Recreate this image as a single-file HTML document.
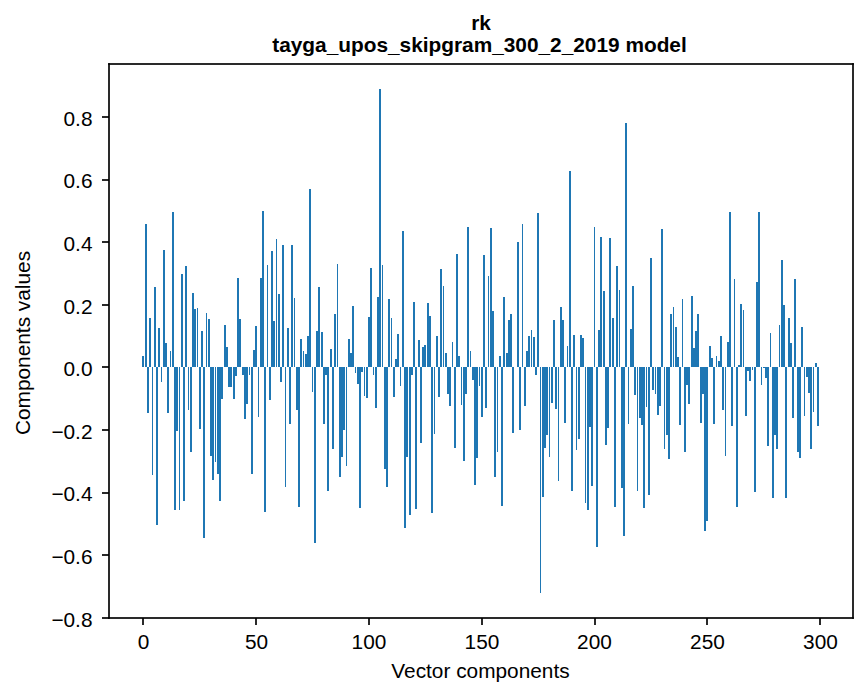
<!DOCTYPE html>
<html lang="en"><head><meta charset="utf-8"><title>rk - tayga_upos_skipgram_300_2_2019 model</title>
<style>
html,body{margin:0;padding:0;background:#fff;}
body{width:867px;height:696px;position:relative;overflow:hidden;font-family:"Liberation Sans",sans-serif;}
svg{position:absolute;left:0;top:0;display:block;}
</style></head><body>
<svg width="867" height="696" viewBox="0 0 867 696" role="img" aria-labelledby="ct">
<title id="ct">Bar chart: rk, tayga_upos_skipgram_300_2_2019 model. X axis: Vector components (0-300). Y axis: Components values (-0.8 to 0.8).</title>
<rect width="867" height="696" fill="#fff"/>
<path id="bars" fill="#1f77b4" shape-rendering="crispEdges" d="M142 356h2v11h-2zM145 224h2v143h-2zM147 367h2v46h-2zM149 318h2v49h-2zM152 367h1v108h-1zM154 287h2v80h-2zM156 367h2v158h-2zM158 328h2v39h-2zM161 367h1v15h-1zM163 250h2v117h-2zM165 343h2v24h-2zM167 367h2v46h-2zM170 351h1v16h-1zM172 212h2v155h-2zM174 367h2v143h-2zM176 367h2v64h-2zM179 367h1v143h-1zM181 274h2v93h-2zM183 367h2v134h-2zM185 266h2v101h-2zM188 367h1v43h-1zM190 367h2v85h-2zM192 293h2v74h-2zM194 309h2v58h-2zM197 308h1v59h-1zM199 367h2v62h-2zM201 331h2v36h-2zM203 367h2v171h-2zM206 313h1v54h-1zM208 319h2v48h-2zM210 367h2v89h-2zM212 367h2v113h-2zM215 367h1v95h-1zM217 367h2v107h-2zM219 367h2v134h-2zM221 367h2v32h-2zM224 325h2v42h-2zM226 347h2v20h-2zM228 367h2v20h-2zM230 367h2v20h-2zM233 367h2v32h-2zM235 367h2v9h-2zM237 278h2v89h-2zM239 319h2v48h-2zM242 367h2v8h-2zM244 367h2v52h-2zM246 367h2v37h-2zM249 367h1v8h-1zM251 367h2v107h-2zM253 350h2v17h-2zM255 326h2v41h-2zM258 367h1v50h-1zM260 278h2v89h-2zM262 211h2v156h-2zM264 367h2v145h-2zM267 265h1v102h-1zM269 367h2v33h-2zM271 251h2v116h-2zM273 321h2v46h-2zM276 239h1v128h-1zM278 294h2v73h-2zM280 367h2v15h-2zM282 245h2v122h-2zM285 367h1v120h-1zM287 328h2v39h-2zM289 367h2v57h-2zM291 245h2v122h-2zM294 298h1v69h-1zM296 367h2v43h-2zM298 367h2v140h-2zM300 339h2v28h-2zM303 351h1v16h-1zM305 354h2v13h-2zM307 336h2v31h-2zM309 189h2v178h-2zM312 367h1v25h-1zM314 367h2v176h-2zM316 331h2v36h-2zM318 287h2v80h-2zM321 332h2v35h-2zM323 367h2v57h-2zM325 367h2v8h-2zM327 367h2v124h-2zM330 349h2v18h-2zM332 367h2v82h-2zM334 314h2v53h-2zM337 264h1v103h-1zM339 367h2v110h-2zM341 367h2v90h-2zM343 367h2v63h-2zM346 367h1v99h-1zM348 339h2v28h-2zM350 353h2v14h-2zM352 306h2v61h-2zM355 367h1v6h-1zM357 367h2v17h-2zM359 367h2v141h-2zM361 367h2v5h-2zM364 367h1v29h-1zM366 367h2v31h-2zM368 317h2v50h-2zM370 268h2v99h-2zM373 367h1v8h-1zM375 367h2v41h-2zM377 297h2v70h-2zM379 89h2v278h-2zM382 265h1v102h-1zM384 367h2v102h-2zM386 367h2v120h-2zM388 299h2v68h-2zM391 318h1v49h-1zM393 367h2v30h-2zM395 359h2v8h-2zM397 334h2v33h-2zM400 367h1v19h-1zM402 231h2v136h-2zM404 367h2v161h-2zM406 367h2v90h-2zM409 367h2v148h-2zM411 367h2v8h-2zM413 302h2v65h-2zM415 367h2v142h-2zM418 340h2v27h-2zM420 367h2v76h-2zM422 347h2v20h-2zM424 345h2v22h-2zM427 303h2v64h-2zM429 316h2v51h-2zM431 367h2v146h-2zM434 367h1v67h-1zM436 336h2v31h-2zM438 367h2v30h-2zM440 269h2v98h-2zM443 286h1v81h-1zM445 353h2v14h-2zM447 367h2v27h-2zM449 367h2v39h-2zM452 342h1v25h-1zM454 367h2v81h-2zM456 254h2v113h-2zM458 356h2v11h-2zM461 367h1v38h-1zM463 367h2v94h-2zM465 367h2v27h-2zM467 227h2v140h-2zM470 351h1v16h-1zM472 367h2v13h-2zM474 367h2v118h-2zM476 367h2v91h-2zM479 367h1v19h-1zM481 367h2v50h-2zM483 255h2v112h-2zM485 367h2v41h-2zM488 276h1v91h-1zM490 228h2v139h-2zM492 311h2v56h-2zM494 367h2v110h-2zM497 367h1v85h-1zM499 356h2v11h-2zM501 367h2v139h-2zM503 297h2v70h-2zM506 353h2v14h-2zM508 320h2v47h-2zM510 314h2v53h-2zM512 367h2v66h-2zM517 242h2v125h-2zM519 367h2v63h-2zM522 224h1v143h-1zM524 367h2v39h-2zM526 351h2v16h-2zM528 336h2v31h-2zM531 330h1v37h-1zM533 337h2v30h-2zM535 367h2v8h-2zM537 213h2v154h-2zM540 367h1v226h-1zM542 367h2v130h-2zM544 367h2v81h-2zM546 367h2v68h-2zM549 367h1v90h-1zM551 367h2v36h-2zM553 320h2v47h-2zM555 367h2v42h-2zM558 367h1v114h-1zM560 307h2v60h-2zM562 320h2v47h-2zM564 367h2v56h-2zM567 346h1v21h-1zM569 171h2v196h-2zM571 367h2v124h-2zM573 335h2v32h-2zM576 367h1v83h-1zM578 367h2v72h-2zM580 335h2v32h-2zM582 338h2v29h-2zM585 367h1v136h-1zM587 367h2v143h-2zM589 367h2v60h-2zM591 367h2v119h-2zM594 227h1v140h-1zM596 367h2v180h-2zM598 330h2v37h-2zM600 237h2v130h-2zM603 291h2v76h-2zM605 367h2v78h-2zM607 367h2v61h-2zM609 238h2v129h-2zM612 318h2v49h-2zM614 367h2v140h-2zM616 266h2v101h-2zM619 290h1v77h-1zM621 367h2v121h-2zM623 367h2v169h-2zM625 123h2v244h-2zM628 367h1v57h-1zM630 329h2v38h-2zM632 286h2v81h-2zM634 367h2v28h-2zM637 367h1v124h-1zM639 367h2v51h-2zM641 367h2v58h-2zM643 367h2v141h-2zM646 367h1v40h-1zM648 367h2v128h-2zM650 258h2v109h-2zM652 367h2v23h-2zM655 367h1v27h-1zM657 367h2v48h-2zM659 367h2v39h-2zM661 229h2v138h-2zM664 367h1v82h-1zM666 367h2v68h-2zM668 367h2v92h-2zM670 314h2v53h-2zM673 307h1v60h-1zM675 327h2v40h-2zM677 357h2v10h-2zM679 367h2v58h-2zM682 299h1v68h-1zM684 367h2v85h-2zM686 367h2v18h-2zM688 367h2v37h-2zM691 296h2v71h-2zM693 348h2v19h-2zM695 331h2v36h-2zM697 314h2v53h-2zM700 367h2v56h-2zM702 367h2v27h-2zM704 367h2v164h-2zM706 367h2v154h-2zM709 346h2v21h-2zM711 358h2v9h-2zM713 367h2v57h-2zM716 356h1v11h-1zM718 361h2v6h-2zM720 336h2v31h-2zM722 367h2v43h-2zM725 367h1v89h-1zM727 342h2v25h-2zM729 212h2v155h-2zM731 367h2v59h-2zM734 279h1v88h-1zM736 367h2v140h-2zM738 365h2v2h-2zM740 304h2v63h-2zM743 310h1v57h-1zM745 367h2v49h-2zM747 367h2v4h-2zM749 367h2v14h-2zM752 367h1v3h-1zM754 367h2v125h-2zM756 282h2v85h-2zM758 212h2v155h-2zM761 367h1v18h-1zM763 367h2v1h-2zM765 367h2v11h-2zM767 367h2v79h-2zM770 333h1v34h-1zM772 367h2v131h-2zM774 367h2v68h-2zM776 367h2v82h-2zM779 325h1v42h-1zM781 260h2v107h-2zM783 305h2v62h-2zM785 367h2v131h-2zM788 318h2v49h-2zM790 343h2v24h-2zM792 367h2v51h-2zM794 279h2v88h-2zM797 367h2v85h-2zM799 367h2v91h-2zM801 327h2v40h-2zM804 367h1v49h-1zM806 367h2v10h-2zM808 367h2v26h-2zM810 367h2v82h-2zM813 367h1v45h-1zM815 363h2v4h-2zM817 367h2v59h-2z"/>
<g id="frame" shape-rendering="crispEdges"><path fill="rgb(2,2,2)" d="M108 617h1v1h-1z"/><path fill="rgb(4,4,4)" d="M108 618h1v1h-1z"/><path fill="rgb(7,7,7)" d="M108 116h1v2h-1zM108 179h1v2h-1zM108 241h1v2h-1zM108 304h1v2h-1zM108 366h1v2h-1zM108 429h1v2h-1zM108 492h1v2h-1zM108 554h1v2h-1zM109 64h1v1h-1zM109 617h1v1h-1zM142 618h2v1h-2zM255 618h2v1h-2zM368 618h2v1h-2zM481 618h2v1h-2zM594 618h2v1h-2zM706 618h2v1h-2zM819 618h2v1h-2zM852 64h1v1h-1zM852 617h1v1h-1z"/><path fill="rgb(13,13,13)" d="M108 64h1v1h-1zM109 63h1v1h-1zM109 618h1v1h-1zM852 63h1v1h-1zM852 618h1v1h-1zM853 64h1v1h-1zM853 617h1v1h-1z"/><path fill="rgb(24,24,24)" d="M108 63h1v1h-1zM853 63h1v1h-1zM853 618h1v1h-1z"/><path fill="rgb(42,42,42)" d="M102 116h6v2h-6zM102 179h6v2h-6zM102 241h6v2h-6zM102 304h6v2h-6zM102 366h6v2h-6zM102 429h6v2h-6zM102 492h6v2h-6zM102 554h6v2h-6zM102 617h6v2h-6zM108 65h2v51h-2zM108 118h2v61h-2zM108 181h2v60h-2zM108 243h2v61h-2zM108 306h2v60h-2zM108 368h2v61h-2zM108 431h2v61h-2zM108 494h2v60h-2zM108 556h2v61h-2zM109 116h1v2h-1zM109 179h1v2h-1zM109 241h1v2h-1zM109 304h1v2h-1zM109 366h1v2h-1zM109 429h1v2h-1zM109 492h1v2h-1zM109 554h1v2h-1zM110 618h32v1h-32zM110 63h742v2h-742zM110 617h742v1h-742zM142 619h2v6h-2zM144 618h111v1h-111zM255 619h2v6h-2zM257 618h111v1h-111zM368 619h2v6h-2zM370 618h111v1h-111zM481 619h2v6h-2zM483 618h111v1h-111zM594 619h2v6h-2zM596 618h110v1h-110zM706 619h2v6h-2zM708 618h111v1h-111zM819 619h2v6h-2zM821 618h31v1h-31zM852 65h2v552h-2z"/></g>
<g id="labels" fill="#000" font-family="&quot;Liberation Sans&quot;, sans-serif" font-size="20.83">
<g text-anchor="middle"><text x="143.6" y="649">0</text><text x="256.5" y="649">50</text><text x="369" y="649">100</text><text x="482" y="649">150</text><text x="594.5" y="649">200</text><text x="707.5" y="649">250</text><text x="820.5" y="649">300</text></g>
<g text-anchor="end"><text x="92.5" y="627">−0.8</text><text x="92.5" y="564">−0.6</text><text x="92.5" y="501">−0.4</text><text x="92.5" y="439">−0.2</text><text x="92.5" y="376">0.0</text><text x="92.5" y="314">0.2</text><text x="92.5" y="251">0.4</text><text x="92.5" y="188">0.6</text><text x="92.5" y="126">0.8</text></g>
<text x="480.5" y="678" text-anchor="middle">Vector components</text>
<text transform="translate(30 343) rotate(-90)" text-anchor="middle">Components values</text>
<text x="481" y="30" text-anchor="middle" font-weight="bold">rk</text>
<text x="479.5" y="52" text-anchor="middle" font-weight="bold">tayga_upos_skipgram_300_2_2019 model</text>
</g>
</svg>
</body></html>
